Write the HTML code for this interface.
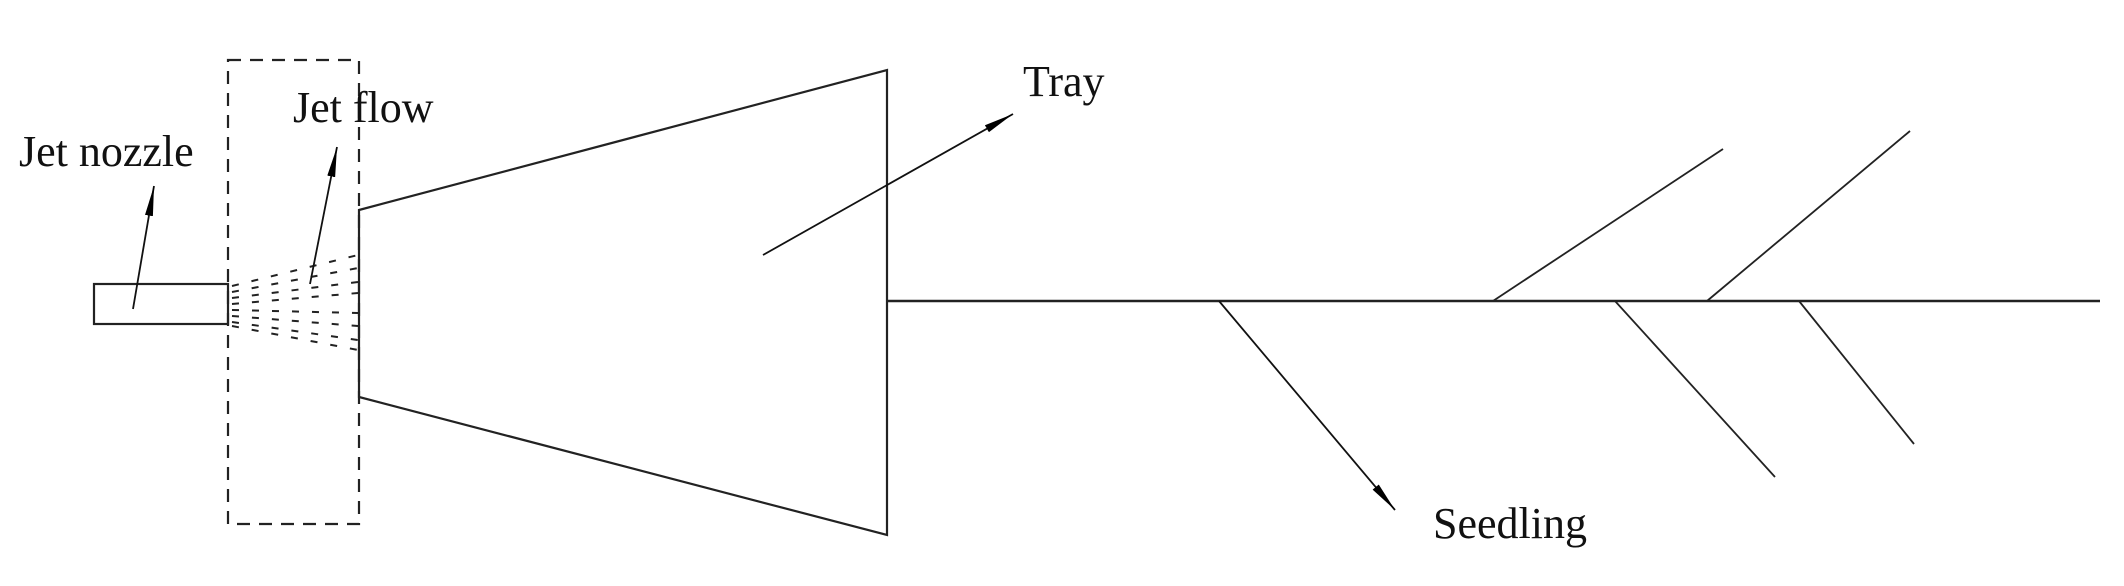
<!DOCTYPE html>
<html><head><style>
html,body{margin:0;padding:0;background:#fff;}
svg{display:block;}
text{font-family:"Liberation Serif",serif;fill:#111;}
</style></head><body>
<svg width="2124" height="586" viewBox="0 0 2124 586" xmlns="http://www.w3.org/2000/svg">
<defs>
<marker id="ahl" viewBox="0 0 30 10" markerWidth="30" markerHeight="10" refX="30" refY="5" orient="auto" markerUnits="userSpaceOnUse">
<path d="M0,1 L30,5 L0,9 Z" fill="#000"/>
</marker>
</defs>
<g stroke="#222" stroke-width="2.2" fill="none">
<rect x="94" y="284" width="134" height="40"/>
<rect x="228" y="60" width="131" height="464" stroke-dasharray="13,9"/>
<path d="M359,210 L887,70 L887,535 L359,397 Z"/>
<line x1="887" y1="301" x2="2100" y2="301" stroke-width="2.6"/>
<line x1="1493" y1="301" x2="1723" y2="149" stroke-width="1.8"/>
<line x1="1707" y1="301" x2="1910" y2="131" stroke-width="1.8"/>
<line x1="1615" y1="301" x2="1775" y2="477" stroke-width="1.8"/>
<line x1="1799" y1="301" x2="1914" y2="444" stroke-width="1.8"/>
</g>
<g stroke="#222" stroke-width="2" fill="none" stroke-dasharray="7,13">
<line x1="232" y1="286" x2="358" y2="255"/>
<line x1="232" y1="292" x2="358" y2="268"/>
<line x1="232" y1="298" x2="358" y2="282"/>
<line x1="232" y1="304" x2="358" y2="293"/>
<line x1="232" y1="310" x2="358" y2="313"/>
<line x1="232" y1="316" x2="358" y2="326"/>
<line x1="232" y1="322" x2="358" y2="340"/>
<line x1="232" y1="326" x2="358" y2="350"/>
</g>
<g stroke="#111" stroke-width="1.8">
<line x1="133" y1="309" x2="154" y2="186" marker-end="url(#ahl)"/>
<line x1="310" y1="284" x2="337" y2="147" marker-end="url(#ahl)"/>
<line x1="763" y1="255" x2="1013" y2="114" marker-end="url(#ahl)"/>
<line x1="1219" y1="301" x2="1395" y2="510" marker-end="url(#ahl)"/>
</g>
<text x="19" y="166" font-size="44">Jet nozzle</text>
<text x="293" y="122" font-size="44">Jet flow</text>
<text x="1023" y="96" font-size="44">Tray</text>
<text x="1433" y="538" font-size="44">Seedling</text>
</svg>
</body></html>
